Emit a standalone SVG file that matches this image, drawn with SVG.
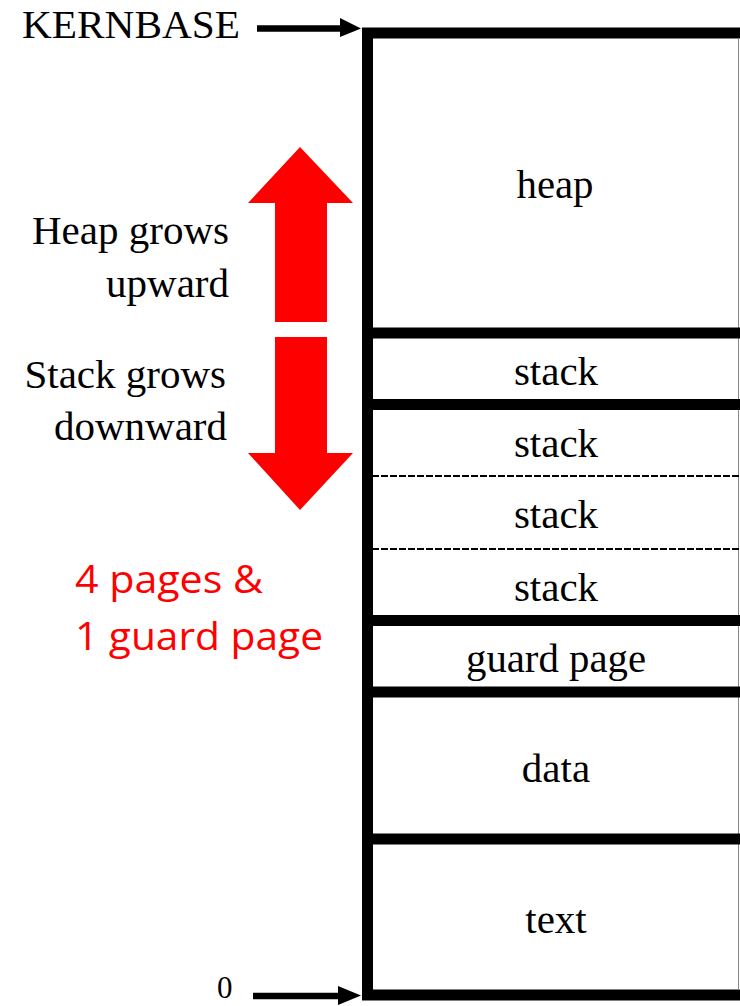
<svg xmlns="http://www.w3.org/2000/svg" width="740" height="1006" viewBox="0 0 740 1006">
  <defs>
    <style>
      .lbl { font-family: "Liberation Serif", "Times New Roman", serif; font-size: 41px; fill: #000; }
      .mid { text-anchor: middle; }
      .end { text-anchor: end; }
      .note { font-family: "Open Sans", "Liberation Sans", sans-serif; font-size: 38px; fill: #ff0000; }
      .thick { stroke: #000; stroke-width: 11; fill: none; }
      .dash { stroke: #000; stroke-width: 2; stroke-dasharray: 7 2; fill: none; }
      .ptr { stroke: #000; stroke-width: 6.5; fill: none; }
      .grow { fill: #ff0000; }
    </style>
  </defs>

  <rect width="740" height="1006" fill="#fff"/>

  <!-- memory column -->
  <g id="column">
    <path class="thick" d="M745 33 H367.5 V995 H745"/>
    <line x1="738.5" y1="38" x2="738.5" y2="990" stroke="#888" stroke-width="1"/>
    <line class="thick" x1="367" y1="333" x2="745" y2="333"/>
    <line class="thick" x1="367" y1="404.5" x2="745" y2="404.5"/>
    <line class="dash" x1="372" y1="476" x2="740" y2="476"/>
    <line class="dash" x1="372" y1="549" x2="740" y2="549"/>
    <line class="thick" x1="367" y1="620.5" x2="745" y2="620.5"/>
    <line class="thick" x1="367" y1="692" x2="745" y2="692"/>
    <line class="thick" x1="367" y1="839" x2="745" y2="839"/>
  </g>

  <g id="heap"><text class="lbl mid" x="555" y="198" textLength="77" lengthAdjust="spacingAndGlyphs">heap</text></g>
  <g id="stack1"><text class="lbl mid" x="556" y="385">stack</text></g>
  <g id="stack2"><text class="lbl mid" x="556" y="457">stack</text></g>
  <g id="stack3"><text class="lbl mid" x="556" y="528">stack</text></g>
  <g id="stack4"><text class="lbl mid" x="556" y="601">stack</text></g>
  <g id="guard"><text class="lbl mid" x="556" y="672" textLength="180" lengthAdjust="spacingAndGlyphs">guard page</text></g>
  <g id="data"><text class="lbl mid" x="556" y="782">data</text></g>
  <g id="text"><text class="lbl mid" x="556" y="933">text</text></g>

  <!-- address markers -->
  <g id="kernbase">
    <text class="lbl" x="22" y="38" textLength="218" lengthAdjust="spacingAndGlyphs">KERNBASE</text>
  </g>
  <g id="zero">
    <text class="lbl" x="217" y="998" style="font-size:31px">0</text>
  </g>

  <g id="connectors">
    <line class="ptr" x1="257" y1="28.5" x2="342" y2="28.5"/>
    <polygon fill="#000" points="340,18 361,28.5 340,37"/>
    <line class="ptr" x1="253" y1="996" x2="340" y2="996"/>
    <polygon fill="#000" points="338,986 361,995.5 338,1005"/>
  </g>

  <!-- growth direction -->
  <g id="growth">
    <text class="lbl end" x="229" y="244">Heap grows</text>
    <text class="lbl end" x="229" y="297">upward</text>
    <text class="lbl end" x="226" y="388">Stack grows</text>
    <text class="lbl end" x="227" y="440">downward</text>
    <polygon class="grow" points="300,147 353,203 327,203 327,322 275,322 275,203 248,203"/>
    <polygon class="grow" points="275,337 327,337 327,453 353,453 300,510 248,453 275,453"/>
  </g>

  <g id="note">
    <text class="note" x="75" y="593" textLength="188" lengthAdjust="spacingAndGlyphs">4 pages &amp;</text>
    <text class="note" x="75" y="650" textLength="248" lengthAdjust="spacingAndGlyphs">1 guard page</text>
  </g>
</svg>
